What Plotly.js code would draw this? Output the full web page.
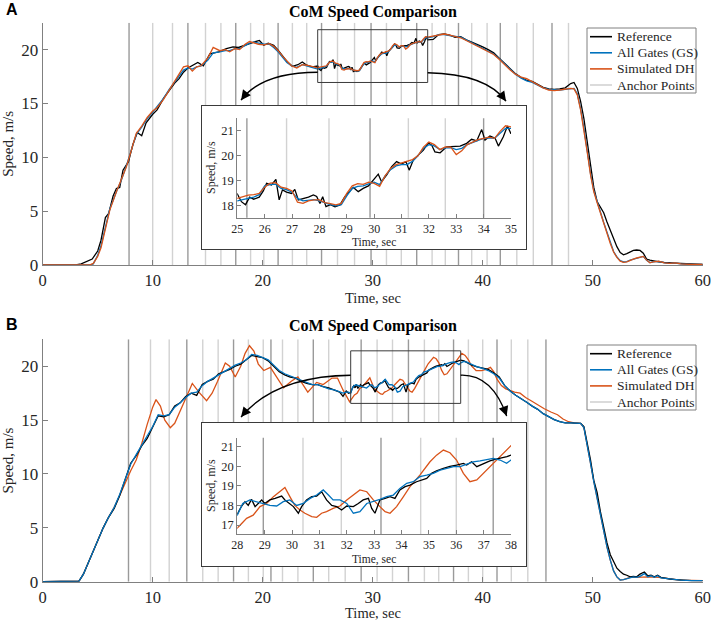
<!DOCTYPE html>
<html>
<head>
<meta charset="utf-8">
<script src="https://cdn.plot.ly/plotly-3.0.1.min.js"></script>
<style>html,body{margin:0;padding:0;background:#fff;}#chart{width:713px;height:620px;}</style>
</head>
<body>
<div id="chart"></div>
<script>
// ---------------- DATA: Panel A ----------------
const tA_ref = [0,3,3.5,4,4.5,5,5.3,5.7,6,6.4,6.7,7,7.3,7.8,8.2,8.6,9,9.4,10,10.4,11,11.5,12,12.4,12.8,13.2,13.6,14.1,14.6,15.2,15.6,16,16.7,17.3,17.8,18.3,18.8,19.2,19.7,20.1,20.5,21,21.4,21.8,22.2,22.7,23.2,23.6,24,24.5,
 25.0,25.15,25.3,25.45,25.6,25.8,25.95,26.07,26.25,26.41,26.53,26.65,26.8,26.98,27.1,27.23,27.4,27.6,27.78,27.9,28.02,28.12,28.24,28.4,28.57,28.75,28.93,29.05,29.24,29.42,29.6,29.79,29.97,30.15,30.27,30.46,30.64,30.82,31.0,31.16,31.28,31.43,31.61,31.8,31.98,32.1,32.22,32.41,32.65,32.89,33.14,33.38,33.56,33.75,33.93,34.05,34.23,34.42,34.54,34.72,34.87,34.99,
 35.5,36,36.5,37,37.5,38,38.5,39,39.5,40,40.5,41,41.5,42,42.5,43,43.5,44,44.5,45,45.5,46,46.5,47,47.5,48,48.3,48.6,48.9,49.2,49.5,49.8,50.1,50.4,50.7,51,51.3,51.6,51.9,52.2,52.5,52.8,53.1,53.4,53.7,54,54.3,54.6,54.9,55.2,55.5,56,56.5,57,57.5,58,59,60];
const vA_ref = [0,0,0.1,0.3,0.55,1.3,2.3,4.4,4.8,6.4,7.1,7.2,8.8,9.6,11.2,12.3,12.0,13.2,14.0,14.4,15.5,16.2,16.9,17.3,17.9,18.3,18.5,18.8,18.5,19.6,19.7,19.8,20.1,20.25,20.2,20.4,20.55,20.7,20.85,20.4,20.6,20.4,19.95,19.4,18.9,18.45,18.6,18.85,18.55,18.4,
 18.48,18.17,18.05,18.35,18.27,18.35,18.6,18.9,18.84,19.06,18.24,18.64,18.55,18.5,18.66,18.24,18.28,18.35,18.44,18.38,18.1,18.37,17.97,18.05,17.97,18.04,18.37,18.5,18.74,18.57,18.7,18.8,19.04,19.27,18.97,19.24,19.57,19.77,19.67,19.77,19.43,19.83,20.03,20.23,20.52,20.43,20.16,20.12,20.36,20.36,20.39,20.5,20.66,20.6,21.05,20.63,20.79,20.7,20.39,20.76,21.19,20.9,
 20.95,21.4,21.45,21.35,21.15,21.2,20.9,20.7,20.5,20.25,20.0,19.7,19.2,18.7,18.2,17.75,17.4,17.15,17.05,16.75,16.5,16.35,16.3,16.35,16.45,16.85,16.95,16.4,15.2,13.6,11.4,9.3,7.2,5.9,5.3,4.85,4.0,3.2,2.5,1.7,1.15,0.95,1.05,1.2,1.35,1.39,1.35,1.1,0.55,0.45,0.37,0.3,0.25,0.2,0.18,0.15,0.1,0.05];

const tA_sim = [0,3,4,4.3,4.6,5,5.3,5.7,6.1,6.7,7.2,7.6,8.1,8.5,9,9.5,10,10.4,11,11.5,12,12.4,12.8,13.2,13.6,14,14.4,15,15.5,16.1,16.6,17,17.5,17.9,18.4,18.8,19.2,19.6,20.1,20.6,21,21.4,21.8,22.2,22.6,23.1,23.6,24,24.5,
 25,25.2,25.4,25.6,25.8,26,26.2,26.4,26.6,26.8,27,27.2,27.4,27.6,27.8,28,28.2,28.4,28.6,28.8,29,29.2,29.4,29.6,29.8,30,30.2,30.4,30.6,30.8,31,31.2,31.4,31.6,31.8,32,32.2,32.4,32.6,32.8,33,33.2,33.4,33.6,33.8,34,34.2,34.4,34.6,34.8,35,
 35.5,36,36.5,37,37.5,38,38.5,39,39.5,40,40.5,41,41.5,42,42.5,43,43.5,44,44.5,45,45.5,46,46.5,47,47.5,48,48.3,48.6,48.9,49.2,49.5,49.8,50.1,50.4,50.7,51,51.3,51.6,51.9,52.2,52.5,52.8,53.1,53.4,53.7,54,54.3,54.6,54.9,55.2,55.5,56,56.5,57,57.5,58,59,60];
const vA_dh = [0,0,0,0.02,0.15,0.8,1.6,3.3,5.1,6.8,8.0,9.1,10.8,12.2,12.9,13.7,14.3,14.6,15.4,16.2,17.0,17.7,18.4,18.5,18.0,18.4,18.5,19.2,20.2,19.9,20.0,19.8,20.1,20.0,20.5,20.75,20.6,20.5,20.45,20.55,20.3,19.9,19.4,18.9,18.5,18.3,18.6,18.55,18.4,
 18.3,18.37,18.43,18.45,18.5,18.75,18.91,18.93,18.75,18.7,18.6,18.15,18.1,18.2,18.24,18.24,18.13,18.09,18.04,18.1,18.5,18.8,18.89,18.86,18.95,18.9,18.78,19.2,19.5,19.65,19.72,19.77,19.85,20.0,20.35,20.55,20.45,20.25,20.36,20.35,20.05,20.2,20.45,20.55,20.65,20.7,20.75,20.7,20.98,21.2,21.16,
 21.25,21.4,21.45,21.35,21.2,21.1,20.85,20.6,20.35,20.1,19.85,19.55,19.1,18.6,18.1,17.7,17.45,17.3,17.0,16.7,16.45,16.25,16.2,16.25,16.3,16.4,16.35,15.8,14.4,12.6,10.5,8.4,6.8,5.8,4.8,3.9,3.0,2.0,1.2,0.7,0.35,0.25,0.3,0.45,0.55,0.65,0.75,0.8,0.45,0.2,0.3,0.35,0.2,0.15,0.2,0.1,0.05,0.05];
const vA_gs = [0,0,0,0,0.1,0.9,1.8,3.6,5.2,6.8,8.0,9.2,10.8,12.1,12.8,13.6,14.2,14.7,15.5,16.3,17.0,17.5,18.1,18.3,18.2,18.4,18.5,19.0,19.7,19.8,19.9,19.9,20.1,20.1,20.4,20.6,20.7,20.6,20.5,20.5,20.2,19.8,19.3,18.8,18.5,18.35,18.6,18.5,18.35,
 18.2,18.25,18.3,18.35,18.45,18.8,18.85,18.87,18.7,18.65,18.55,18.3,18.2,18.22,18.25,18.2,18.12,18.05,18.0,18.05,18.4,18.7,18.78,18.8,18.88,18.95,18.85,19.2,19.45,19.6,19.65,19.65,19.78,20.0,20.3,20.45,20.4,20.25,20.32,20.33,20.25,20.3,20.45,20.55,20.62,20.7,20.72,20.7,20.9,21.1,21.1,
 21.2,21.4,21.4,21.3,21.2,21.15,20.9,20.65,20.4,20.15,19.9,19.6,19.15,18.65,18.15,17.7,17.35,17.1,16.95,16.7,16.45,16.3,16.25,16.25,16.3,16.4,16.4,15.9,14.5,12.7,10.6,8.5,6.9,5.85,4.85,3.95,3.05,2.05,1.25,0.75,0.4,0.28,0.32,0.45,0.55,0.65,0.75,0.8,0.45,0.22,0.3,0.33,0.2,0.15,0.18,0.1,0.05,0.05];

const anchorsA_dark = [7.85,13.2,17.55,21.4,25.35,29.85,34.0,37.8,41.6,46.3];
const anchorsA_light = [10.0,11.8,14.8,16.2,18.9,20.1,22.7,24.0,26.8,28.35,31.25,32.6,35.4,36.6,39.0,40.4,43.1,44.6,47.8];

// ---------------- DATA: Panel B ----------------
const tB_ref = [0,3,3.3,3.7,4,4.5,5,5.5,6,6.5,7,7.5,8,8.5,9,9.5,10,10.5,11,11.5,12,12.5,13,13.5,14,14.5,15,15.5,16,16.5,17,17.5,18,18.5,19,19.5,20,20.5,21,21.5,22,22.5,23,23.5,24,24.5,25,25.5,26,26.5,27,27.3,27.6,27.8,
 28.0,28.16,28.28,28.4,28.52,28.65,28.77,28.89,29.0,29.19,29.38,29.62,29.74,29.86,30.05,30.23,30.35,30.53,30.72,30.9,31.08,31.26,31.45,31.63,31.81,32.0,32.24,32.42,32.6,32.79,32.91,33.03,33.21,33.4,33.58,33.76,33.94,34.13,34.31,34.55,34.74,34.92,35.1,35.28,35.53,35.77,36.01,36.26,36.38,36.56,36.75,36.99,37.23,37.42,37.6,37.85,38.0,
 38.3,38.6,39,39.5,40,40.5,41,41.5,42,42.5,43,43.5,44,44.5,45,45.5,46,46.5,47,47.5,48,48.5,48.9,49.2,49.5,49.8,50.1,50.4,50.7,51.0,51.3,51.6,51.9,52.2,52.5,52.8,53.1,53.4,53.7,54.0,54.3,54.7,55.0,55.3,55.6,55.9,56.2,56.6,57,57.5,58,59,60];
const vB_ref = [0,0,0.05,0.7,1.4,2.7,3.9,5.0,6.0,6.8,8.0,9.5,11.0,11.7,12.6,13.3,14.3,15.4,15.3,15.5,16.3,16.6,17.2,17.5,17.3,18.3,18.6,18.8,19.3,19.5,19.7,20.0,20.2,20.6,21.0,20.9,20.8,20.5,20.0,19.5,19.2,19.0,18.9,18.6,18.4,18.3,18.3,18.1,18.0,17.8,17.6,17.2,17.7,17.5,
 17.56,17.97,18.19,18.0,18.31,17.94,18.1,18.28,18.1,18.28,18.36,18.48,18.28,18.14,17.94,17.6,17.94,18.28,18.45,18.48,18.7,18.28,18.0,17.94,17.77,17.97,17.94,18.1,18.28,18.36,17.85,17.6,18.28,18.36,18.45,18.36,18.79,18.96,19.04,19.21,19.3,19.38,19.64,19.77,19.89,20.0,20.06,20.15,20.06,20.23,19.98,20.15,20.28,20.35,20.4,20.49,20.57,
 20.5,20.3,20.1,19.95,19.85,19.7,19.4,19.0,18.2,17.7,17.3,17.0,16.65,16.3,16.0,15.6,15.3,15.05,14.85,14.75,14.75,14.75,14.7,14.4,12.9,11.3,9.4,8.3,6.5,5.0,3.6,2.5,1.8,1.25,0.95,0.7,0.6,0.45,0.5,0.45,0.7,0.9,0.55,0.6,0.45,0.6,0.4,0.3,0.25,0.2,0.15,0.1,0.1];
const vB_gs_early = [0,0,0.05,0.7,1.4,2.7,3.9,5.0,6.0,6.9,8.1,9.5,10.9,11.8,12.7,13.5,14.4,15.5,15.4,15.5,16.2,16.6,17.1,17.5,17.6,18.2,18.6,18.9,19.2,19.5,19.8,20.1,20.3,20.6,21.1,21.0,20.8,20.6,20.1,19.6,19.3,19.1,18.9,18.7,18.5,18.3,18.3,18.1,17.9,17.8,17.6,17.5,17.6,17.6];
const tB_gs_mid = [28.0,28.2,28.46,28.7,28.95,29.19,29.44,29.68,29.92,30.17,30.41,30.66,30.9,31.14,31.33,31.5,31.75,32.0,32.24,32.48,32.73,32.97,33.21,33.46,33.7,33.94,34.19,34.43,34.67,34.92,35.16,35.41,35.65,35.9,36.14,36.38,36.62,36.87,37.11,37.35,37.6,37.84,38.0];
const vB_gs_mid = [17.5,18.1,18.28,18.2,18.1,18.0,17.97,18.19,18.28,18.0,18.1,18.36,18.53,18.79,18.53,18.28,18.28,18.1,17.6,17.68,18.1,18.19,18.31,18.45,18.53,18.87,19.13,19.21,19.47,19.55,19.64,19.8,19.89,19.98,19.98,20.1,20.23,20.28,20.35,20.4,20.32,20.15,20.32];
const tB_late = [38.3,38.6,39,39.5,40,40.5,41,41.5,42,42.5,43,43.5,44,44.5,45,45.5,46,46.5,47,47.5,48,48.5,48.9,49.2,49.5,49.8,50.1,50.4,50.7,51.0,51.3,51.6,51.9,52.2,52.5,52.8,53.1,53.4,53.7,54.0,54.3,54.7,55.0,55.3,55.6,55.9,56.2,56.6,57,57.5,58,59,60];
const vB_gs_late = [20.45,20.35,20.15,19.95,19.8,19.6,19.3,18.9,18.2,17.7,17.3,17.0,16.65,16.3,16.0,15.6,15.3,15.05,14.85,14.75,14.75,14.75,14.7,14.3,12.8,11.0,9.3,7.8,6.2,4.6,3.2,2.0,1.0,0.45,0.15,0.2,0.3,0.4,0.45,0.4,0.5,0.75,0.45,0.55,0.4,0.55,0.35,0.3,0.25,0.2,0.15,0.1,0.1];

const tB_dh = [0,3,3.3,3.7,4,4.5,5,5.5,6,6.5,7,7.5,8,8.5,9,9.5,10,10.3,10.7,11.1,11.6,12,12.5,13,13.6,14.2,14.9,15.4,15.9,16.3,16.6,17.0,17.5,18.0,18.4,18.8,19.2,19.6,20.1,20.7,21.3,21.9,22.6,23.2,24.1,24.9,25.5,26.3,26.8,27.3,27.9,
 28.0,28.16,28.34,28.58,28.83,29.07,29.32,29.56,29.74,29.92,30.1,30.29,30.47,30.72,30.9,31.08,31.26,31.5,31.75,32.0,32.24,32.48,32.73,32.97,33.21,33.4,33.58,33.82,34.07,34.31,34.67,35.04,35.28,35.53,35.77,36.01,36.26,36.5,36.75,36.99,37.23,37.48,37.72,38.0,
 38.1,38.4,38.7,39.0,39.4,39.9,40.3,40.7,41.0,41.3,41.7,42.1,42.5,42.9,43.4,43.9,44.4,45.0,45.6,46.2,46.8,47.3,47.8,48.3,48.9,49.2,49.5,49.8,50.1,50.4,50.7,51.0,51.3,51.6,51.9,52.2,52.5,52.8,53.1,53.4,54,55,56,57,58,60];
const vB_dh = [0,0,0.05,0.7,1.4,2.7,3.9,5.0,6.0,6.9,8.0,9.2,10.3,11.3,12.8,14.6,16.2,16.9,16.3,15.0,14.3,14.7,15.8,17.0,18.4,17.6,16.8,17.5,18.6,19.5,20.3,20.0,19.0,20.0,21.2,21.9,21.4,20.2,19.6,19.9,19.0,18.0,18.6,19.0,17.6,18.5,18.3,18.9,18.9,17.8,16.7,
 16.83,17.08,17.34,17.5,17.94,18.1,18.45,18.7,18.92,18.45,18.0,17.77,17.6,17.43,17.39,17.6,17.68,17.85,17.97,18.28,18.53,18.79,18.7,18.28,17.94,17.68,17.6,17.94,18.45,18.96,19.55,20.23,20.57,20.83,20.69,20.32,19.64,19.21,19.3,19.64,19.98,20.32,20.66,21.08,
 21.2,21.0,20.6,20.0,19.6,19.6,19.7,19.9,19.5,18.8,18.2,17.9,17.75,17.6,17.5,17.1,16.8,16.4,16.05,15.75,15.5,15.1,14.85,14.75,14.7,14.3,12.8,11.0,9.3,7.8,6.2,4.6,3.2,2.0,1.0,0.45,0.15,0.2,0.3,0.4,0.4,0.45,0.4,0.25,0.15,0.1];

const anchorsB_dark = [7.8,13.1,17.35,20.75,24.6,28.95,33.25,37.35,41.3,45.75];
const anchorsB_light = [9.8,11.5,14.55,15.95,18.7,20.05,21.8,23.2,26.0,27.5,30.4,31.8,34.7,36.0,38.7,40.0,42.6,44.1];

const seriesNames = ['Reference','All Gates (GS)','Simulated DH','Anchor Points'];
const titleText = 'CoM Speed Comparison';
const xTitle = 'Time, sec';
const yTitle = 'Speed, m/s';

// ---------------- STYLE ----------------
const SERIF = "'Liberation Serif', 'Times New Roman', Times, serif";
const SANS = "'Liberation Sans', Arial, sans-serif";
const C_REF = '#000000', C_GS = '#0072BD', C_DH = '#D95319';
const C_DARK = '#9a9a9a', C_LIGHT = '#d2d2d2';
const AXC = '#808080', TXT = '#262626';
const W = 713, H = 620;
const px2x = p => p / W;
const py2y = p => 1 - p / H;
const seriesColors = [C_REF, C_GS, C_DH, C_LIGHT];

function vlines(arr){
  const x = [], y = [];
  arr.forEach(a => { x.push(a, a, null); y.push(0, 22.5, null); });
  return {x, y};
}
function line(x, y, color, xa, ya, opts){
  return Object.assign({type:'scatter', mode:'lines', x, y, xaxis:xa, yaxis:ya,
    line:{color, width:1.3}, hoverinfo:'skip', showlegend:false}, opts||{});
}
function anchorTraces(dark, light, xa, ya){
  const d = vlines(dark), l = vlines(light);
  return [
    line(l.x, l.y, C_LIGHT, xa, ya, {name:seriesNames[3], line:{color:C_LIGHT, width:1.4}}),
    line(d.x, d.y, C_DARK, xa, ya, {name:seriesNames[3], line:{color:C_DARK, width:1.4}})
  ];
}

const vB_gs = vB_gs_early.concat(vB_gs_mid, vB_gs_late);
const tB_gs = tB_ref.slice(0, vB_gs_early.length).concat(tB_gs_mid, tB_late);

const traces = [];
// Panel A main
traces.push(...anchorTraces(anchorsA_dark, anchorsA_light, 'x', 'y'));
traces.push(line(tA_ref, vA_ref, C_REF, 'x', 'y', {name:seriesNames[0]}));
traces.push(line(tA_sim, vA_gs, C_GS, 'x', 'y', {name:seriesNames[1]}));
traces.push(line(tA_sim, vA_dh, C_DH, 'x', 'y', {name:seriesNames[2]}));
// Panel A frame (white inset background + box)
traces.push({type:'scatter', mode:'lines', x:[null], y:[null], xaxis:'x2', yaxis:'y2', showlegend:false, hoverinfo:'skip'});
// Panel A inset
traces.push(...anchorTraces(anchorsA_dark, anchorsA_light, 'x3', 'y3'));
traces.push(line(tA_ref, vA_ref, C_REF, 'x3', 'y3', {name:seriesNames[0]}));
traces.push(line(tA_sim, vA_gs, C_GS, 'x3', 'y3', {name:seriesNames[1]}));
traces.push(line(tA_sim, vA_dh, C_DH, 'x3', 'y3', {name:seriesNames[2]}));
// Panel B main
traces.push(...anchorTraces(anchorsB_dark, anchorsB_light, 'x4', 'y4'));
traces.push(line(tB_dh, vB_dh, C_DH, 'x4', 'y4', {name:seriesNames[2]}));
traces.push(line(tB_ref, vB_ref, C_REF, 'x4', 'y4', {name:seriesNames[0]}));
traces.push(line(tB_gs, vB_gs, C_GS, 'x4', 'y4', {name:seriesNames[1]}));
// Panel B frame
traces.push({type:'scatter', mode:'lines', x:[null], y:[null], xaxis:'x5', yaxis:'y5', showlegend:false, hoverinfo:'skip'});
// Panel B inset
traces.push(...anchorTraces(anchorsB_dark, anchorsB_light, 'x6', 'y6'));
traces.push(line(tB_dh, vB_dh, C_DH, 'x6', 'y6', {name:seriesNames[2]}));
traces.push(line(tB_ref, vB_ref, C_REF, 'x6', 'y6', {name:seriesNames[0]}));
traces.push(line(tB_gs, vB_gs, C_GS, 'x6', 'y6', {name:seriesNames[1]}));

function mainX(anchor){
  return {domain:[px2x(42.7), px2x(702.7)], anchor, range:[0,60], dtick:10, ticks:'inside', ticklen:5,
    tickcolor:AXC, showline:true, linecolor:AXC, linewidth:1, showgrid:false, zeroline:false,
    tickfont:{family:SERIF, size:16.5, color:TXT}};
}
function mainY(anchor, domain){
  return {domain, anchor, range:[0,22.5], dtick:5, ticks:'inside', ticklen:5,
    tickcolor:AXC, showline:true, linecolor:AXC, linewidth:1, showgrid:false, zeroline:false,
    tickfont:{family:SERIF, size:17, color:TXT},
    title:{text:yTitle, font:{family:SERIF, size:15, color:TXT}, standoff:7}};
}
function frameAx(anchor, domain){
  return {domain, anchor, range:[0,1], showline:true, mirror:true, linecolor:'#3a3a3a', linewidth:1.2,
    ticks:'', showticklabels:false, showgrid:false, zeroline:false, fixedrange:true};
}
function insetX(anchor, range){
  return {domain:[px2x(237.3), px2x(511)], anchor, range, dtick:1, ticks:'inside', ticklen:4,
    tickcolor:AXC, showline:true, linecolor:AXC, linewidth:1, showgrid:false, zeroline:false,
    tickfont:{family:SERIF, size:12, color:TXT}};
}
function insetY(anchor, domain, range){
  return {domain, anchor, range, dtick:1, ticks:'inside', ticklen:4,
    tickcolor:AXC, showline:true, linecolor:AXC, linewidth:1, showgrid:false, zeroline:false,
    tickfont:{family:SERIF, size:12.5, color:TXT}};
}

const arrowLine = {color:'#000000', width:1.4};
const shapes = [
  {type:'rect', xref:'x', yref:'y', x0:25, x1:35, y0:16.95, y1:21.85, line:{color:'#3a3a3a', width:1}, layer:'above'},
  {type:'path', xref:'x', yref:'y', path:'M25,17.9 Q19.94,17.9 18.03,15.31', line:arrowLine, layer:'above'},
  {type:'path', xref:'x', yref:'y', path:'M35,17.85 Q40.3,17.75 42.12,15.21', line:arrowLine, layer:'above'},
  {type:'rect', xref:'x4', yref:'y4', x0:28, x1:38, y0:16.55, y1:21.43, line:{color:'#3a3a3a', width:1}, layer:'above'},
  {type:'path', xref:'x4', yref:'y4', path:'M28,19.17 Q21.12,19.08 18.03,15.28', line:arrowLine, layer:'above'},
  {type:'path', xref:'x4', yref:'y4', path:'M38,19.17 Q40.85,19.27 42.18,15.37', line:arrowLine, layer:'above'}
];
function head(x, y, xref, yref, ax, ay){
  return {x, y, xref, yref, ax, ay, axref:'pixel', ayref:'pixel', text:'', showarrow:true,
    arrowhead:2, arrowsize:1.4, arrowwidth:1.4, arrowcolor:'#000000', standoff:0, startstandoff:0};
}
function txt(text, x, y, size, opts){
  return Object.assign({text, xref:'paper', yref:'paper', x:px2x(x), y:py2y(y), xanchor:'center', yanchor:'middle',
    showarrow:false, font:{family:SERIF, size, color:TXT}}, opts||{});
}
const annotations = [
  head(18.03, 15.31, 'x', 'y', 4.8, -6.4),
  head(42.12, 15.21, 'x', 'y', -4.7, -6.5),
  head(18.03, 15.28, 'x4', 'y4', 5.1, -6.2),
  head(42.18, 15.37, 'x4', 'y4', -2.6, -7.5),
  txt('<b>A</b>', 4, 10, 16, {xanchor:'left', font:{family:SANS, size:16, color:'#000'}}),
  txt('<b>B</b>', 4, 324, 16, {xanchor:'left', font:{family:SANS, size:16, color:'#000'}}),
  txt(titleText, 373, 326, 16, {font:{family:SERIF, size:16, color:'#000', weight:'bold'}}),
  // main x-axis titles
  txt(xTitle, 373, 297.5, 14.5),
  txt(xTitle, 373, 612.5, 14.5),
  // inset axis titles
  txt(xTitle, 374, 242.5, 11.5),
  txt(xTitle, 374, 559, 11.5),
  txt(yTitle, 211, 168, 12, {textangle:-90}),
  txt(yTitle, 211, 486, 12, {textangle:-90})
];

// hand-drawn legend boxes (Plotly's own legend row spacing is too tall for this figure)
function addLegend(top){
  shapes.push({type:'rect', xref:'paper', yref:'paper', x0:px2x(587), x1:px2x(696), y0:py2y(top+65), y1:py2y(top),
    line:{color:'#808080', width:1}, fillcolor:'#ffffff', layer:'above'});
  seriesNames.forEach((nm, i) => {
    const yc = top + 8.7 + i * 16.1;
    shapes.push({type:'line', xref:'paper', yref:'paper', x0:px2x(590), x1:px2x(612), y0:py2y(yc), y1:py2y(yc),
      line:{color:seriesColors[i], width:1.6}, layer:'above'});
    annotations.push(txt(nm, 615, yc, 13.5, {xanchor:'left'}));
  });
}
addLegend(28);
addLegend(345);

const layout = {
  width:W, height:H, margin:{l:0, r:0, t:0, b:0},
  paper_bgcolor:'#ffffff', plot_bgcolor:'#ffffff',
  title:{text:titleText, x:px2x(373), xanchor:'center', y:py2y(11), yanchor:'middle', yref:'container',
    font:{family:SERIF, size:16, color:'#000', weight:'bold'}},
  showlegend:false,
  xaxis: mainX('y'),
  yaxis: mainY('x', [py2y(265), py2y(22.7)]),
  xaxis2: frameAx('y2', [px2x(201.7), px2x(526)]),
  yaxis2: frameAx('x2', [py2y(249), py2y(106)]),
  xaxis3: insetX('y3', [25,35]),
  yaxis3: insetY('x3', [py2y(217.7), py2y(118.3)], [17.53, 21.5]),
  xaxis4: mainX('y4'),
  yaxis4: mainY('x4', [py2y(581.7), py2y(339.3)]),
  xaxis5: frameAx('y5', [px2x(201.7), px2x(526)]),
  yaxis5: frameAx('x5', [py2y(566), py2y(422.7)]),
  xaxis6: insetX('y6', [28,38]),
  yaxis6: insetY('x6', [py2y(534), py2y(437.7)], [16.54, 21.46]),
  shapes, annotations
};

Plotly.newPlot('chart', traces, layout, {staticPlot:true, displayModeBar:false});
</script>
</body>
</html>
